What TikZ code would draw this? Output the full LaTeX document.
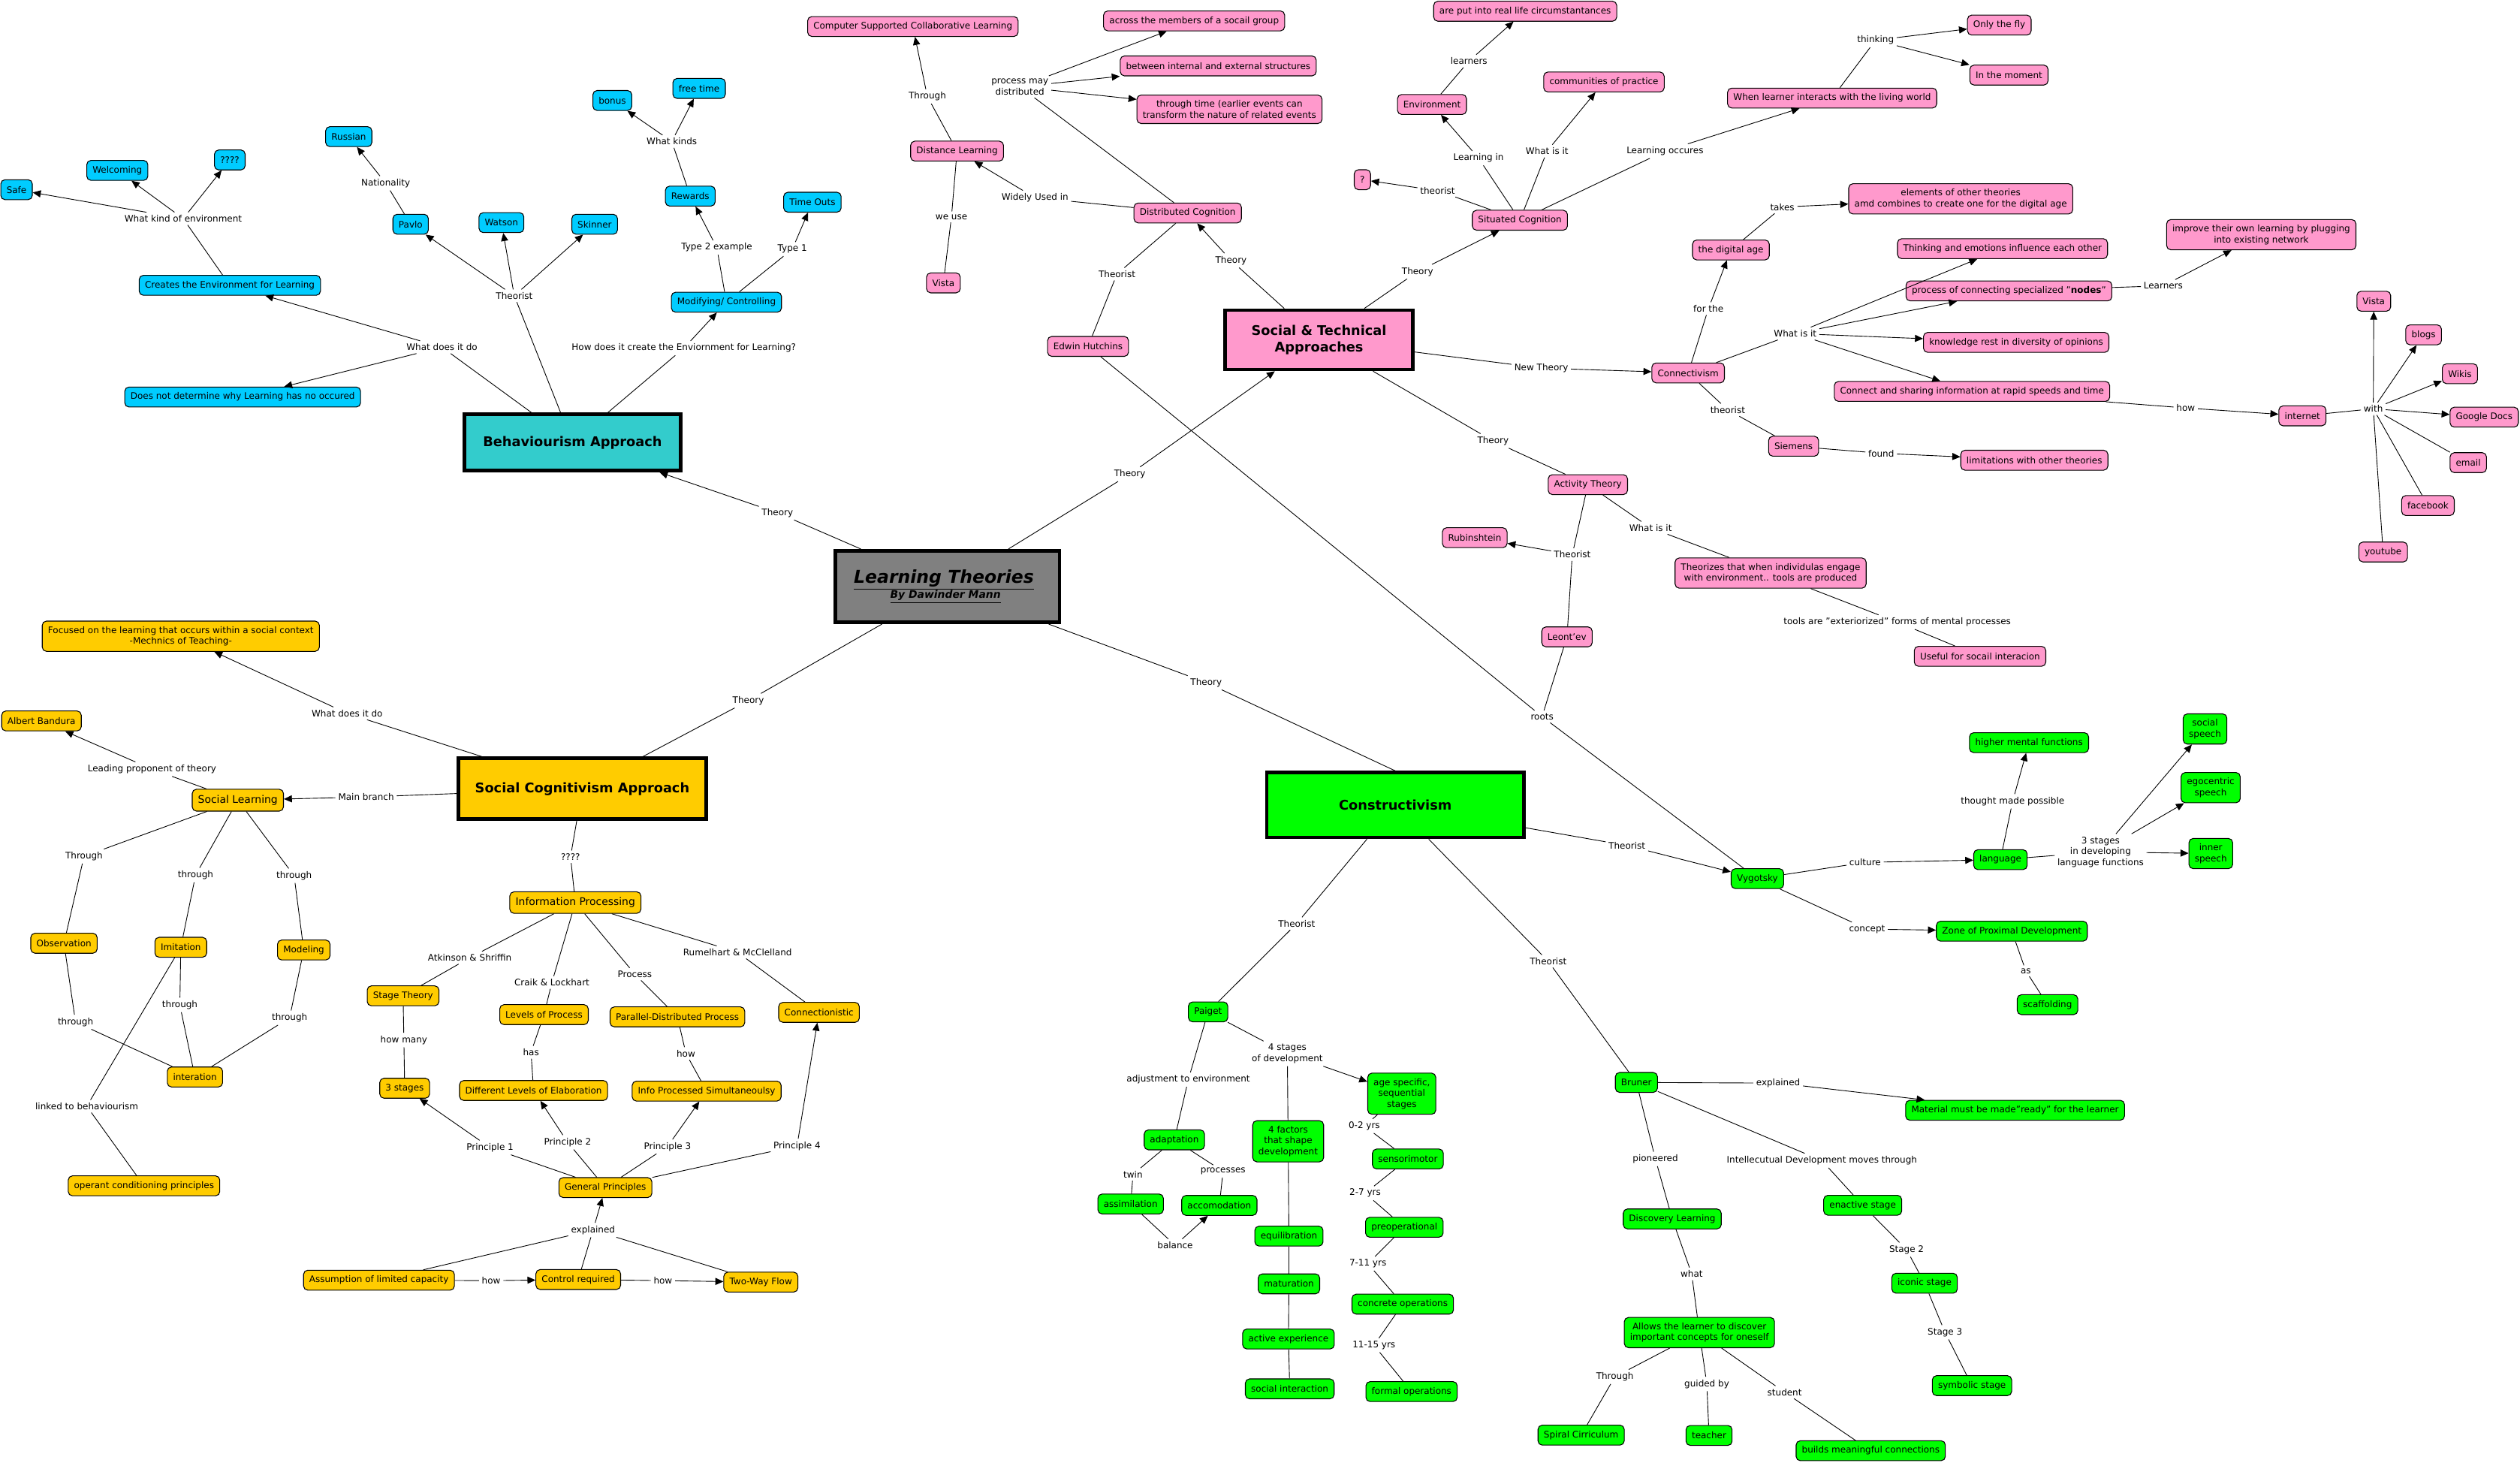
\documentclass[tikz,border=0pt]{standalone}
\usepackage{fontspec}
\setmainfont{DejaVu Sans}
\usetikzlibrary{arrows.meta}
\definecolor{cBlue}{RGB}{0,204,255}
\definecolor{cTeal}{RGB}{51,204,204}
\definecolor{cPink}{RGB}{255,153,204}
\definecolor{cYellow}{RGB}{255,204,0}
\definecolor{cGreen}{RGB}{0,255,0}
\definecolor{cGray}{RGB}{128,128,128}
\newcommand{\myfs}{\fontsize{5.6}{6.8}\selectfont}
\newcommand{\myfsb}{\fontsize{6.5}{7.8}\selectfont}
\newcommand{\myfsmain}{\fontsize{8.3}{10.5}\selectfont\bfseries}
\tikzset{
  cbox/.style={draw=black, line width=0.5pt, rounded corners=2.6pt, font=\myfs,
    inner xsep=3.6pt, inner ysep=3.3pt, minimum height=12.4pt, align=center},
  bl/.style={cbox, fill=cBlue},
  pk/.style={cbox, fill=cPink},
  gr/.style={cbox, fill=cGreen},
  yl/.style={cbox, fill=cYellow},
  lbl/.style={font=\myfs, inner sep=1.6pt, align=center},
  mainbox/.style={draw=black, line width=2.2pt, font=\myfsmain, align=center, inner sep=0pt},
  ln/.style={line width=0.42pt},
  ar/.style={line width=0.42pt, -{Triangle[length=5pt,width=4.4pt]}},
}
\begin{document}
\begin{tikzpicture}[x=1pt,y=-1pt]
\fill[white] (0,0) rectangle (1568,910);
\useasboundingbox (0,0) rectangle (1568,910);

% ---------- main boxes ----------
\node[mainbox, fill=cGray, minimum width=139.4pt, minimum height=44.5pt] (lt) at (589.5,364.9) {};
\node[font=\fontsize{11}{13}\selectfont\bfseries\itshape, inner sep=0pt] (ltt) at (587.3,360.8) {\underline{Learning Theories}};
\node[font=\fontsize{6.5}{8}\selectfont\bfseries\itshape, inner sep=0pt] (lts) at (588.3,371.5) {\underline{By Dawinder Mann}};
\node[mainbox, fill=cTeal, minimum width=134.6pt, minimum height=35pt] (behav) at (356.2,275.3) {Behaviourism Approach};
\node[mainbox, fill=cPink, minimum width=116.8pt, minimum height=36.9pt] (st) at (820.7,211.4) {Social \& Technical\\Approaches};
\node[mainbox, fill=cYellow, minimum width=154.3pt, minimum height=37.8pt] (scog) at (362.3,490.7) {Social Cognitivism Approach};
\node[mainbox, fill=cGreen, minimum width=160.1pt, minimum height=40.3pt] (constr) at (868.2,500.8) {Constructivism};

% ---------- behaviourism (blue) ----------
\node[bl] (safe) at (10.3,118) {Safe};
\node[bl] (welc) at (73,106) {Welcoming};
\node[bl] (qqq) at (143,99.5) {????};
\node[bl] (creates) at (143,177.5) {Creates the Environment for Learning};
\node[bl] (russian) at (217,85) {Russian};
\node[bl] (pavlo) at (255.5,139.5) {Pavlo};
\node[bl] (watson) at (312,138.5) {Watson};
\node[bl] (skinner) at (370,139.5) {Skinner};
\node[bl] (notdet) at (151,247) {Does not determine why Learning has no occured};
\node[bl] (bonus) at (381,62.5) {bonus};
\node[bl] (freetime) at (435,55) {free time};
\node[bl] (rewards) at (429.5,122) {Rewards};
\node[bl] (timeouts) at (505.5,125.8) {Time Outs};
\node[bl] (modif) at (452,188) {Modifying/ Controlling};

% ---------- social & technical (pink) ----------
\node[pk] (cscl) at (568,16.5) {Computer Supported Collaborative Learning};
\node[pk] (distl) at (595.5,94) {Distance Learning};
\node[pk] (vista1) at (587,176) {Vista};
\node[pk] (distcog) at (739,132.5) {Distributed Cognition};
\node[pk] (across) at (743,13) {across the members of a socail group};
\node[pk] (between) at (758,41) {between internal and external structures};
\node[pk] (throughtime) at (765,68) {through time (earlier events can\\transform the nature of related events};
\node[pk] (edwin) at (677,215.5) {Edwin Hutchins};
\node[pk] (realife) at (949,7) {are put into real life circumstantances};
\node[pk] (environ) at (891,65) {Environment};
\node[pk] (commun) at (998,51) {communities of practice};
\node[pk] (qmark) at (847.7,111.8) {?};
\node[pk] (situated) at (945.7,137) {Situated Cognition};
\node[pk] (whenlearner) at (1140,61) {When learner interacts with the living world};
\node[pk] (onlyfly) at (1244,15.6) {Only the fly};
\node[pk] (moment) at (1250,46.7) {In the moment};
\node[pk] (elements) at (1220,123.7) {elements of other theories\\amd combines to create one for the digital age};
\node[pk] (digage) at (1077,155.5) {the digital age};
\node[pk] (connectiv) at (1050.4,232) {Connectivism};
\node[pk] (thinkemo) at (1246,154.7) {Thinking and emotions influence each other};
\node[pk] (nodes) at (1250,181) {process of connecting specialized "\textbf{nodes}"};
\node[pk] (improve) at (1407,146) {improve their own learning by plugging\\into existing network};
\node[pk] (knowledge) at (1254.5,213) {knowledge rest in diversity of opinions};
\node[pk] (connshare) at (1227,243.5) {Connect and sharing information at rapid speeds and time};
\node[pk] (internet) at (1432.6,258.7) {internet};
\node[pk] (vista2) at (1477,187.4) {Vista};
\node[pk] (blogs) at (1508,208.3) {blogs};
\node[pk] (wikis) at (1530.6,232.5) {Wikis};
\node[pk] (gdocs) at (1545.7,259.5) {Google Docs};
\node[pk] (email) at (1535.8,287.8) {email};
\node[pk] (facebook) at (1510.7,314.5) {facebook};
\node[pk] (youtube) at (1482.8,343.4) {youtube};
\node[pk] (siemens) at (1116,277.6) {Siemens};
\node[pk] (limits) at (1265.8,286.3) {limitations with other theories};
\node[pk] (activity) at (988,301.5) {Activity Theory};
\node[pk] (rubin) at (917.6,334.5) {Rubinshtein};
\node[pk] (theorizes) at (1101.7,356.5) {Theorizes that when individulas engage\\with environment.. tools are produced};
\node[pk] (leontev) at (975,396.2) {Leont'ev};
\node[pk] (useful) at (1232,408.3) {Useful for socail interacion};

% ---------- constructivism (green) ----------
\node[gr] (vygotsky) at (1093.5,546.6) {Vygotsky};
\node[gr] (language) at (1244.7,534.8) {language};
\node[gr] (higher) at (1262.5,462) {higher mental functions};
\node[gr] (socspeech) at (1372,453.5) {social\\speech};
\node[gr] (egospeech) at (1375.5,490) {egocentric\\speech};
\node[gr] (innerspeech) at (1375.6,531) {inner\\speech};
\node[gr] (zpd) at (1251.8,579.3) {Zone of Proximal Development};
\node[gr] (scaff) at (1274,625) {scaffolding};
\node[gr] (paiget) at (751.7,629.5) {Paiget};
\node[gr] (adapt) at (730.7,709.1) {adaptation};
\node[gr] (assim) at (703.5,749) {assimilation};
\node[gr] (accom) at (758.7,749.9) {accomodation};
\node[gr] (agespec) at (872.2,680.4) {age specific,\\sequential\\stages};
\node[gr] (fourfac) at (801.5,710) {4 factors\\that shape\\development};
\node[gr] (sensori) at (876,721) {sensorimotor};
\node[gr] (preop) at (873.8,763.5) {preoperational};
\node[gr] (concrete) at (872.8,811.3) {concrete operations};
\node[gr] (formal) at (878.3,865.7) {formal operations};
\node[gr] (equil) at (802,769) {equilibration};
\node[gr] (matur) at (802,798.7) {maturation};
\node[gr] (activeexp) at (801.7,833) {active experience};
\node[gr] (socint) at (802.5,864) {social interaction};
\node[gr] (bruner) at (1018.2,673.4) {Bruner};
\node[gr] (material) at (1253.8,690.7) {Material must be made"ready" for the learner};
\node[gr] (discovery) at (1040.5,758.3) {Discovery Learning};
\node[gr] (enactive) at (1159,749.8) {enactive stage};
\node[gr] (iconic) at (1197.5,798.3) {iconic stage};
\node[gr] (symbolic) at (1227,862) {symbolic stage};
\node[gr] (allows) at (1057.4,829) {Allows the learner to discover\\important concepts for oneself};
\node[gr] (spiral) at (983.8,892.8) {Spiral Cirriculum};
\node[gr] (teacher) at (1063.4,893) {teacher};
\node[gr] (builds) at (1164,902.5) {builds meaningful connections};

% ---------- social cognitivism (yellow) ----------
\node[yl] (focused) at (112.5,395.8) {Focused on the learning that occurs within a social context\\-Mechnics of Teaching-};
\node[yl] (bandura) at (25.8,448.5) {Albert Bandura};
\node[yl, font=\myfsb, minimum height=13.6pt] (soclearn) at (148,497.8) {Social Learning};
\node[yl] (observation) at (39.8,586.8) {Observation};
\node[yl] (imitation) at (112.5,589.3) {Imitation};
\node[yl] (modeling) at (189,591) {Modeling};
\node[yl] (interation) at (121.3,670) {interation};
\node[yl] (operant) at (89.6,737.7) {operant conditioning principles};
\node[yl, font=\myfsb, minimum height=13.4pt] (infoproc) at (358,561.5) {Information Processing};
\node[yl] (stagetheory) at (250.8,619.5) {Stage Theory};
\node[yl] (levels) at (338.5,631.2) {Levels of Process};
\node[yl] (pdp) at (421.5,632.6) {Parallel-Distributed Process};
\node[yl] (connectionistic) at (509.6,629.8) {Connectionistic};
\node[yl] (threestages) at (251.8,677) {3 stages};
\node[yl] (difflevels) at (332,678.4) {Different Levels of Elaboration};
\node[yl] (infosim) at (439.7,678.8) {Info Processed Simultaneoulsy};
\node[yl] (genprin) at (376.7,738.8) {General Principles};
\node[yl] (assump) at (235.8,796.4) {Assumption of limited capacity};
\node[yl] (control) at (359.8,796) {Control required};
\node[yl] (twoway) at (473.4,797.6) {Two-Way Flow};

% ---------- link labels ----------
\node[lbl] (l1) at (483.7,319) {Theory};
\node[lbl] (l2) at (275,216) {What does it do};
\node[lbl] (l3) at (320,184) {Theorist};
\node[lbl] (l4) at (425.5,216.6) {How does it create the Enviornment for Learning?};
\node[lbl] (l5) at (114,136) {What kind of environment};
\node[lbl] (l6) at (240,114) {Nationality};
\node[lbl] (l7) at (446,154) {Type 2 example};
\node[lbl] (l8) at (493,155) {Type 1};
\node[lbl] (l9) at (418,88) {What kinds};
\node[lbl] (l10) at (703,295) {Theory};
\node[lbl] (l11) at (766,162) {Theory};
\node[lbl] (l12) at (882,169) {Theory};
\node[lbl] (l13) at (959,229) {New Theory};
\node[lbl] (l14) at (929,274.3) {Theory};
\node[lbl] (l15) at (644,123) {Widely Used in};
\node[lbl] (l16) at (634.6,54) {process may\\distributed};
\node[lbl] (l17) at (695,170.5) {Theorist};
\node[lbl] (l18) at (577,60) {Through};
\node[lbl] (l19) at (592,135) {we use};
\node[lbl] (l20) at (894.5,118.6) {theorist};
\node[lbl] (l21) at (920,98.4) {Learning in};
\node[lbl] (l22) at (914,38) {learners};
\node[lbl] (l23) at (962.6,94) {What is it};
\node[lbl] (l24) at (1036,94) {Learning occures};
\node[lbl] (l25) at (1167,25) {thinking};
\node[lbl] (l26) at (1063,192) {for the};
\node[lbl] (l27) at (1109,128.8) {takes};
\node[lbl] (l28) at (1117,207.5) {What is it};
\node[lbl] (l29) at (1346,177.8) {Learners};
\node[lbl] (l30) at (1360,253.8) {how};
\node[lbl] (l31) at (1476.7,254.3) {with};
\node[lbl] (l32) at (1075,255) {theorist};
\node[lbl] (l33) at (1170.5,282) {found};
\node[lbl] (l34) at (978.3,345) {Theorist};
\node[lbl] (l35) at (1027,328.4) {What is it};
\node[lbl] (l36) at (1180.5,387) {tools are "exteriorized" forms of mental processes};
\node[lbl] (l37) at (959.5,445.8) {roots};
\node[lbl] (l38) at (750.5,424.6) {Theory};
\node[lbl] (l39) at (1012.3,526) {Theorist};
\node[lbl] (l40) at (806.8,574.6) {Theorist};
\node[lbl] (l41) at (963.3,598) {Theorist};
\node[lbl] (l42) at (1160.5,536.5) {culture};
\node[lbl] (l43) at (1161.7,578) {concept};
\node[lbl] (l44) at (1252.3,498.5) {thought made possible};
\node[lbl] (l45) at (1307,530) {3 stages\\in developing\\language functions};
\node[lbl] (l46) at (1260.5,604) {as};
\node[lbl] (l47) at (739.4,671.6) {adjustment to environment};
\node[lbl] (l48) at (801,655.5) {4 stages\\of development};
\node[lbl] (l49) at (705,730.5) {twin};
\node[lbl] (l50) at (761,728.7) {processes};
\node[lbl] (l51) at (731.2,774.7) {balance};
\node[lbl] (l52) at (848.9,700.5) {0-2 yrs};
\node[lbl] (l53) at (849.4,742.3) {2-7 yrs};
\node[lbl] (l54) at (851.1,786.1) {7-11 yrs};
\node[lbl] (l55) at (854.9,836.9) {11-15 yrs};
\node[lbl] (l56) at (1106.4,673.8) {explained};
\node[lbl] (l57) at (1030,721) {pioneered};
\node[lbl] (l58) at (1133.6,722) {Intellecutual Development moves through};
\node[lbl] (l59) at (1186.3,777.4) {Stage 2};
\node[lbl] (l60) at (1210.2,828.8) {Stage 3};
\node[lbl] (l61) at (1052.6,792.5) {what};
\node[lbl] (l62) at (1004.8,856.5) {Through};
\node[lbl] (l63) at (1062,861) {guided by};
\node[lbl] (l64) at (1110.4,866.1) {student};
\node[lbl] (l65) at (465.6,435.9) {Theory};
\node[lbl] (l66) at (216,443.8) {What does it do};
\node[lbl] (l67) at (227.8,495.8) {Main branch};
\node[lbl] (l68) at (355,533) {????};
\node[lbl] (l69) at (94.6,478.5) {Leading proponent of theory};
\node[lbl] (l70) at (52.3,532.7) {Through};
\node[lbl] (l71) at (121.7,544.4) {through};
\node[lbl] (l72) at (183,544.8) {through};
\node[lbl] (l73) at (47,635.8) {through};
\node[lbl] (l74) at (111.9,625.2) {through};
\node[lbl] (l75) at (180.2,633.2) {through};
\node[lbl] (l76) at (54,688.2) {linked to behaviourism};
\node[lbl] (l77) at (292.3,595.8) {Atkinson \& Shriffin};
\node[lbl] (l78) at (343.4,611.2) {Craik \& Lockhart};
\node[lbl] (l79) at (395,606) {Process};
\node[lbl] (l80) at (458.9,592.4) {Rumelhart \& McClelland};
\node[lbl] (l81) at (251.3,647) {how many};
\node[lbl] (l82) at (330.4,654.6) {has};
\node[lbl] (l83) at (426.8,655.4) {how};
\node[lbl] (l84) at (304.9,713.9) {Principle 1};
\node[lbl] (l85) at (353.2,710.6) {Principle 2};
\node[lbl] (l86) at (415.3,713.3) {Principle 3};
\node[lbl] (l87) at (495.9,712.9) {Principle 4};
\node[lbl] (l88) at (369,765.2) {explained};
\node[lbl] (l89) at (305.6,796.7) {how};
\node[lbl] (l90) at (412.5,796.7) {how};

% ---------- connectors ----------
% centre
\draw[ln] (lt) -- (l1); \draw[ar] (l1) -- (behav);
\draw[ln] (lt) -- (l10); \draw[ar] (l10) -- (st);
\draw[ln] (lt) -- (l65); \draw[ln] (l65) -- (scog);
\draw[ln] (lt) -- (l38); \draw[ln] (l38) -- (constr.north);
% behaviourism
\draw[ln] (behav) -- (l2); \draw[ar] (l2) -- (creates); \draw[ar] (l2) -- (notdet);
\draw[ln] (behav) -- (l3); \draw[ar] (l3) -- (pavlo); \draw[ar] (l3) -- (watson); \draw[ar] (l3) -- (skinner);
\draw[ln] (behav) -- (l4); \draw[ar] (l4) -- (modif);
\draw[ln] (creates) -- (l5); \draw[ar] (l5) -- (safe); \draw[ar] (l5) -- (welc); \draw[ar] (l5) -- (qqq);
\draw[ln] (pavlo) -- (l6); \draw[ar] (l6) -- (russian);
\draw[ln] (modif) -- (l7); \draw[ar] (l7) -- (rewards);
\draw[ln] (modif) -- (l8); \draw[ar] (l8) -- (timeouts);
\draw[ln] (rewards) -- (l9); \draw[ar] (l9) -- (bonus); \draw[ar] (l9) -- (freetime);
% social & technical
\draw[ln] (st) -- (l11); \draw[ar] (l11) -- (distcog);
\draw[ln] (st) -- (l12); \draw[ar] (l12) -- (situated);
\draw[ln] (st) -- (l13); \draw[ar] (l13) -- (connectiv);
\draw[ln] (st) -- (l14); \draw[ln] (l14) -- (activity);
\draw[ln] (distcog) -- (l15); \draw[ar] (l15) -- (distl);
\draw[ln] (distcog) -- (l16); \draw[ar] (l16) -- (across); \draw[ar] (l16) -- (between); \draw[ar] (l16) -- (throughtime);
\draw[ln] (distcog) -- (l17); \draw[ln] (l17) -- (edwin);
\draw[ln] (distl) -- (l18); \draw[ar] (l18) -- (cscl);
\draw[ln] (distl) -- (l19); \draw[ln] (l19) -- (vista1);
\draw[ln] (situated) -- (l20); \draw[ar] (l20) -- (qmark);
\draw[ln] (situated) -- (l21); \draw[ar] (l21) -- (environ);
\draw[ln] (environ) -- (l22); \draw[ar] (l22) -- (realife);
\draw[ln] (situated) -- (l23); \draw[ar] (l23) -- (commun);
\draw[ln] (situated) -- (l24); \draw[ar] (l24) -- (whenlearner);
\draw[ln] (whenlearner) -- (l25); \draw[ar] (l25) -- (onlyfly); \draw[ar] (l25) -- (moment);
\draw[ln] (connectiv) -- (l26); \draw[ar] (l26) -- (digage);
\draw[ln] (digage) -- (l27); \draw[ar] (l27) -- (elements);
\draw[ln] (connectiv) -- (l28); \draw[ar] (l28) -- (thinkemo); \draw[ar] (l28) -- (nodes); \draw[ar] (l28) -- (knowledge); \draw[ar] (l28) -- (connshare);
\draw[ln] (nodes) -- (l29); \draw[ar] (l29) -- (improve);
\draw[ln] (connshare) -- (l30); \draw[ar] (l30) -- (internet);
\draw[ln] (internet) -- (l31); \draw[ar] (l31) -- (vista2); \draw[ar] (l31) -- (blogs); \draw[ar] (l31) -- (wikis); \draw[ar] (l31) -- (gdocs);
\draw[ln] (l31) -- (email); \draw[ln] (l31) -- (facebook); \draw[ln] (l31) -- (youtube);
\draw[ln] (connectiv) -- (l32); \draw[ln] (l32) -- (siemens);
\draw[ln] (siemens) -- (l33); \draw[ar] (l33) -- (limits);
\draw[ln] (activity) -- (l34); \draw[ar] (l34) -- (rubin); \draw[ln] (l34) -- (leontev);
\draw[ln] (activity) -- (l35); \draw[ln] (l35) -- (theorizes);
\draw[ln] (theorizes) -- (l36); \draw[ln] (l36) -- (useful);
\draw[ln] (leontev) -- (l37); \draw[ln] (edwin) -- (l37); \draw[ln] (l37) -- (vygotsky);
% constructivism
\draw[ln] (constr) -- (l39); \draw[ar] (l39) -- (vygotsky);
\draw[ln] (constr) -- (l40); \draw[ln] (l40) -- (paiget);
\draw[ln] (constr) -- (l41); \draw[ln] (l41) -- (bruner);
\draw[ln] (vygotsky) -- (l42); \draw[ar] (l42) -- (language);
\draw[ln] (vygotsky) -- (l43); \draw[ar] (l43) -- (zpd);
\draw[ln] (language) -- (l44); \draw[ar] (l44) -- (higher);
\draw[ln] (language) -- (l45); \draw[ar] (l45) -- (socspeech); \draw[ar] (l45) -- (egospeech); \draw[ar] (l45) -- (innerspeech);
\draw[ln] (zpd) -- (l46); \draw[ln] (l46) -- (scaff);
\draw[ln] (paiget) -- (l47); \draw[ln] (l47) -- (adapt);
\draw[ln] (paiget) -- (l48); \draw[ar] (l48) -- (agespec); \draw[ln] (l48) -- (fourfac);
\draw[ln] (adapt) -- (l49); \draw[ln] (l49) -- (assim);
\draw[ln] (adapt) -- (l50); \draw[ln] (l50) -- (accom);
\draw[ln] (assim) -- (l51); \draw[ar] (l51) -- (accom);
\draw[ln] (agespec) -- (l52); \draw[ln] (l52) -- (sensori);
\draw[ln] (sensori) -- (l53); \draw[ln] (l53) -- (preop);
\draw[ln] (preop) -- (l54); \draw[ln] (l54) -- (concrete);
\draw[ln] (concrete) -- (l55); \draw[ln] (l55) -- (formal);
\draw[ln] (fourfac) -- (equil); \draw[ln] (equil) -- (matur); \draw[ln] (matur) -- (activeexp); \draw[ln] (activeexp) -- (socint);
\draw[ln] (bruner) -- (l56); \draw[ar] (l56) -- (material);
\draw[ln] (bruner) -- (l57); \draw[ln] (l57) -- (discovery);
\draw[ln] (bruner) -- (l58); \draw[ln] (l58) -- (enactive);
\draw[ln] (enactive) -- (l59); \draw[ln] (l59) -- (iconic);
\draw[ln] (iconic) -- (l60); \draw[ln] (l60) -- (symbolic);
\draw[ln] (discovery) -- (l61); \draw[ln] (l61) -- (allows);
\draw[ln] (allows) -- (l62); \draw[ln] (l62) -- (spiral);
\draw[ln] (allows) -- (l63); \draw[ln] (l63) -- (teacher);
\draw[ln] (allows) -- (l64); \draw[ln] (l64) -- (builds);
% social cognitivism
\draw[ln] (scog) -- (l66); \draw[ar] (l66) -- (focused);
\draw[ln] (scog) -- (l67); \draw[ar] (l67) -- (soclearn);
\draw[ln] (scog) -- (l68); \draw[ln] (l68) -- (infoproc);
\draw[ln] (soclearn) -- (l69); \draw[ar] (l69) -- (bandura);
\draw[ln] (soclearn) -- (l70); \draw[ln] (l70) -- (observation);
\draw[ln] (soclearn) -- (l71); \draw[ln] (l71) -- (imitation);
\draw[ln] (soclearn) -- (l72); \draw[ln] (l72) -- (modeling);
\draw[ln] (observation) -- (l73); \draw[ln] (l73) -- (interation);
\draw[ln] (imitation) -- (l74); \draw[ln] (l74) -- (interation);
\draw[ln] (modeling) -- (l75); \draw[ln] (l75) -- (interation);
\draw[ln] (imitation) -- (l76); \draw[ln] (l76) -- (operant);
\draw[ln] (infoproc) -- (l77); \draw[ln] (l77) -- (stagetheory);
\draw[ln] (infoproc) -- (l78); \draw[ln] (l78) -- (levels);
\draw[ln] (infoproc) -- (l79); \draw[ln] (l79) -- (pdp);
\draw[ln] (infoproc) -- (l80); \draw[ln] (l80) -- (connectionistic);
\draw[ln] (stagetheory) -- (l81); \draw[ln] (l81) -- (threestages);
\draw[ln] (levels) -- (l82); \draw[ln] (l82) -- (difflevels);
\draw[ln] (pdp) -- (l83); \draw[ln] (l83) -- (infosim);
\draw[ln] (genprin) -- (l84); \draw[ar] (l84) -- (threestages);
\draw[ln] (genprin) -- (l85); \draw[ar] (l85) -- (difflevels);
\draw[ln] (genprin) -- (l86); \draw[ar] (l86) -- (infosim);
\draw[ln] (genprin) -- (l87); \draw[ar] (l87) -- (connectionistic);
\draw[ln] (assump) -- (l88); \draw[ln] (control) -- (l88); \draw[ln] (twoway) -- (l88); \draw[ar] (l88) -- (genprin);
\draw[ln] (assump) -- (l89); \draw[ar] (l89) -- (control);
\draw[ln] (control) -- (l90); \draw[ar] (l90) -- (twoway);
\end{tikzpicture}
\end{document}
